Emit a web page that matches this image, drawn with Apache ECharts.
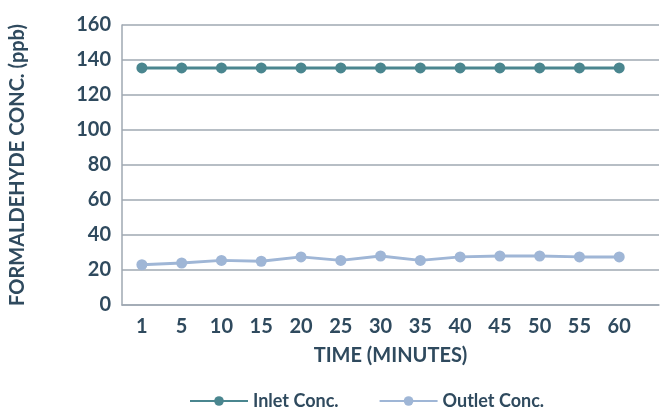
<!DOCTYPE html>
<html>
<head>
<meta charset="utf-8">
<script src="https://cdn.jsdelivr.net/npm/echarts@6/dist/echarts.min.js"></script>
<style>
html,body{margin:0;padding:0;background:#fff;}
#c{width:662px;height:407px;}
</style>
</head>
<body>
<div id="c"></div>
<script>
var categories = ['1','5','10','15','20','25','30','35','40','45','50','55','60'];
var inletConc = [135.5,135.5,135.5,135.5,135.5,135.5,135.5,135.5,135.5,135.5,135.5,135.5,135.5];
var outletConc = [23,24,25.5,25,27.5,25.5,28,25.5,27.5,28,28,27.5,27.5];
var yTicks = [0,20,40,60,80,100,120,140,160];

var textColor = '#2f4a5e';
var gridColor = '#9fa8b2';
var inletColor = '#4a868f';
var outletColor = '#9fb6d6';

function toPairs(arr){ return arr.map(function(v,i){ return [i, v]; }); }

var chart = echarts.init(document.getElementById('c'));
chart.setOption({
  animation: false,
  textStyle: {fontFamily: 'Lato', fontWeight: 'bold'},
  grid: {left: 120, right: 0, top: 25, bottom: 102},
  xAxis: {
    type: 'value',
    min: -0.5, max: 13, interval: 0.5,
    name: 'TIME (MINUTES)',
    nameLocation: 'middle',
    nameGap: 41,
    nameTextStyle: {color: textColor, fontSize: 20, fontWeight: 'bold', fontFamily: 'Lato'},
    axisLine: {show: true, onZero: false, lineStyle: {color: gridColor, width: 1.5}},
    axisTick: {show: false},
    splitLine: {show: false},
    axisLabel: {
      color: textColor, fontSize: 20, fontWeight: 'bold', fontFamily: 'Lato', margin: 12,
      formatter: function(v){ return (Math.abs(v - Math.round(v)) < 1e-9 && categories[Math.round(v)] !== undefined) ? categories[Math.round(v)] : ''; }
    }
  },
  yAxis: {
    type: 'value',
    min: yTicks[0], max: yTicks[yTicks.length-1], interval: 20,
    name: 'FORMALDEHYDE CONC. (ppb)',
    nameLocation: 'middle',
    nameGap: 94,
    nameTextStyle: {color: textColor, fontSize: 20, fontWeight: 'bold', fontFamily: 'Lato'},
    axisLine: {show: true, onZero: false, lineStyle: {color: gridColor, width: 1.5}},
    axisTick: {show: false},
    splitLine: {show: true, lineStyle: {color: gridColor, width: 1.5}},
    axisLabel: {color: textColor, fontSize: 20, fontWeight: 'bold', fontFamily: 'Lato', margin: 11}
  },
  legend: {
    left: 184, top: 387,
    itemWidth: 58, itemHeight: 12, itemGap: 40,
    textStyle: {color: textColor, fontSize: 18, fontWeight: 'bold', fontFamily: 'Lato'},
    data: ['Inlet Conc.', 'Outlet Conc.']
  },
  series: [
    {
      name: 'Inlet Conc.', type: 'line', data: toPairs(inletConc),
      symbol: 'circle', symbolSize: 11,
      lineStyle: {color: inletColor, width: 3},
      itemStyle: {color: inletColor}
    },
    {
      name: 'Outlet Conc.', type: 'line', data: toPairs(outletConc),
      symbol: 'circle', symbolSize: 11,
      lineStyle: {color: outletColor, width: 3},
      itemStyle: {color: outletColor}
    }
  ]
});
</script>
</body>
</html>
